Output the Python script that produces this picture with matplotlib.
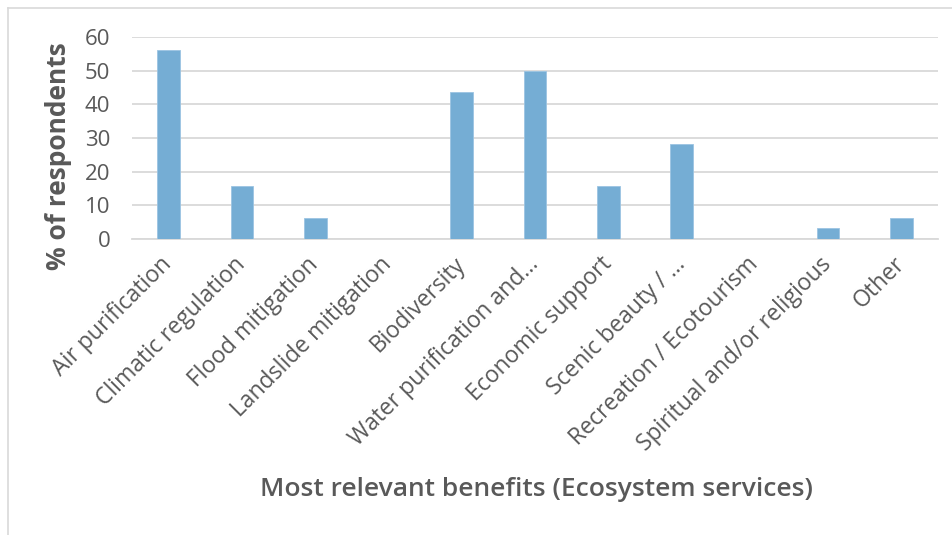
import numpy as np
import matplotlib.pyplot as plt
from matplotlib.lines import Line2D

categories = ["Air purification", "Climatic regulation", "Flood mitigation",
              "Landslide mitigation", "Biodiversity", "Water purification and\u2026",
              "Economic support", "Scenic beauty / \u2026", "Recreation / Ecotourism",
              "Spiritual and/or religious", "Other"]
values = [56.25, 15.625, 6.25, 0, 43.75, 50, 15.625, 28.125, 0, 3.125, 6.25]
yticks = [0, 10, 20, 30, 40, 50, 60]

plt.rcParams['font.family'] = ['Open Sans', 'DejaVu Sans']
grey = '#595959'

fig = plt.figure(figsize=(9.53, 5.35), dpi=100)
ax = fig.add_axes([132/953, 1 - 238.7/535, (938-132)/953, (238.7-37.3)/535])

x = np.arange(len(categories))
ax.bar(x, values, width=0.31, color='#75ADD4', edgecolor='#9CC4E2', linewidth=0.6, zorder=3)

ax.set_xlim(-0.5, len(categories) - 0.5)
ax.set_ylim(0, 60)
ax.set_yticks(yticks)
ax.yaxis.grid(True, color='#D9D9D9', linewidth=1.3, zorder=0)
for s in ['top', 'right', 'left']:
    ax.spines[s].set_visible(False)
ax.spines['bottom'].set_color('#D9D9D9')
ax.spines['bottom'].set_linewidth(1.3)
ax.tick_params(length=0, colors=grey)
ax.tick_params(axis='y', pad=15.5, labelsize=16)
ax.set_xticks(x)
ax.set_xticklabels(categories, rotation=45, ha='right', va='center',
                   rotation_mode='anchor', fontsize=16.5)
ax.tick_params(axis='x', pad=16)

ax.set_ylabel('% of respondents', fontsize=19, fontweight='bold', color=grey)
ax.yaxis.set_label_coords((72 - 132) / 806, 0.5 - (156 - 138) / 201.4)
fig.text(536/953, 1 - 490/535, 'Most relevant benefits (Ecosystem services)',
         fontsize=19, fontweight='semibold', color=grey, ha='center', va='center')

# chart frame
fig.add_artist(Line2D([8/953, 8/953], [0, 1 - 8/535], transform=fig.transFigure, color='#D9D9D9', linewidth=1.2))
fig.add_artist(Line2D([8/953, 1], [1 - 8/535, 1 - 8/535], transform=fig.transFigure, color='#D9D9D9', linewidth=1.2))

fig.savefig('out.png', dpi=100)
